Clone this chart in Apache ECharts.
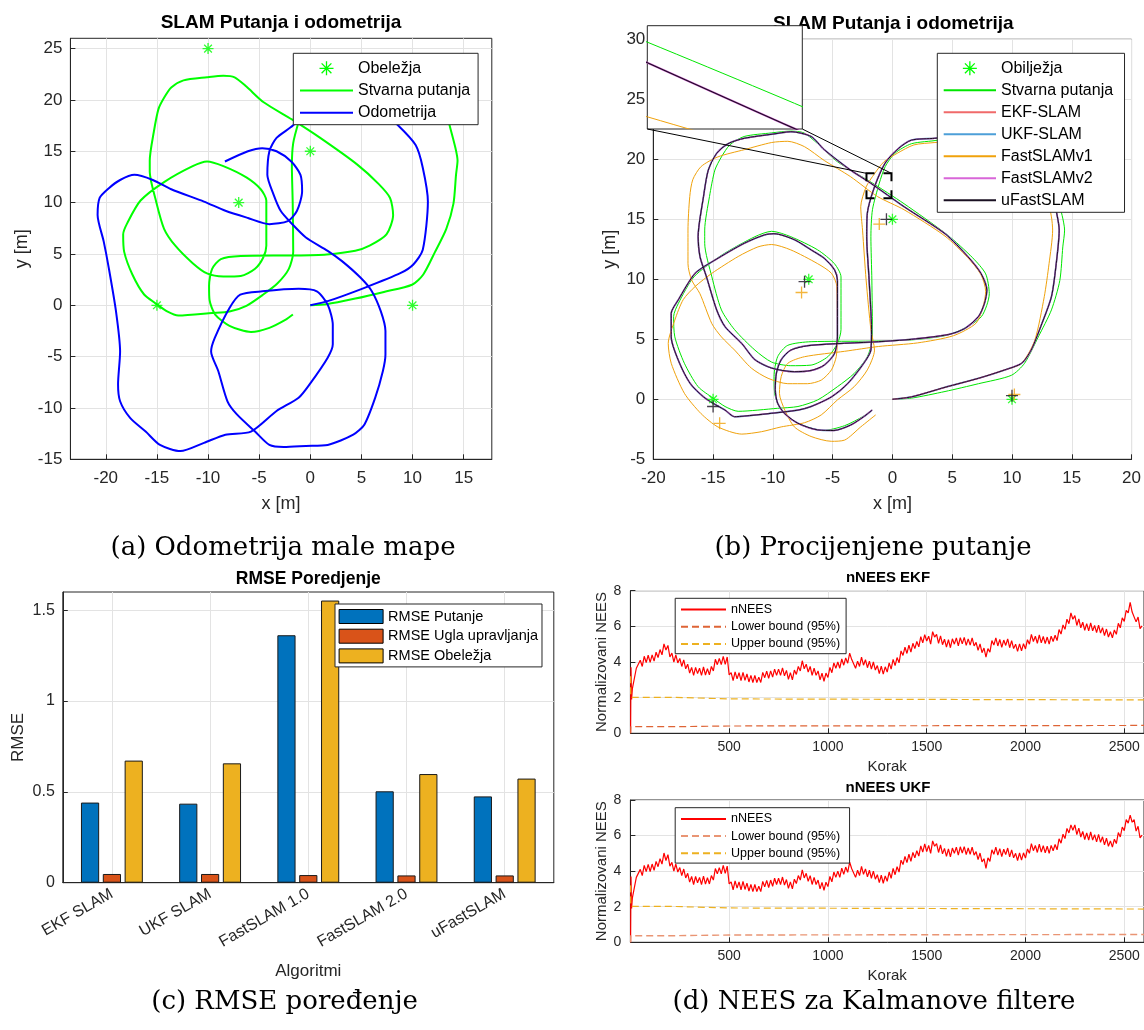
<!DOCTYPE html>
<html><head><meta charset="utf-8">
<script src="https://cdn.jsdelivr.net/npm/echarts@6/dist/echarts.min.js"></script>
<style>html,body{margin:0;padding:0;background:#fff;}#c{width:1144px;height:1030px;}</style>
</head><body><div id="c"></div>
<script>
// ---------------- DATA ----------------
const landmarks = [[-10,25],[0,15],[-7,10],[-15,0],[10,0]];
const truePath = [[0,0],[1.6,0.1],[4.4,0.65],[7.2,1.3],[9.95,2.0],[11.05,3.0],[12.2,5.2],[13.3,7.45],[14.0,9.9],[14.25,12.7],[14.4,14.1],[14.2,15.3],[13.6,17.6],[13.0,19.8],[11.8,21.4],[9.8,22.3],[7.0,22.4],[5.0,22.0],[3.8,21.6],[1.6,21.3],[0.2,20.5],[-0.6,19.4],[-1.1,18.0],[-1.67,15.8],[-1.8,13.55],[-1.72,9.95],[-1.67,5.2],[-2.1,3.55],[-3.2,2.15],[-4.6,1.05],[-6.25,-0.05],[-7.9,-0.6],[-9.6,-0.75],[-12.9,-1.0],[-14.0,-0.6],[-15.0,0.1],[-16.25,1.05],[-17.4,3.0],[-18.2,5.2],[-18.3,6.9],[-17.9,8.0],[-16.6,10.2],[-14.3,12.0],[-11.5,13.55],[-10.1,14.0],[-8.5,13.55],[-6.25,12.45],[-4.85,11.3],[-4.3,10.2],[-4.3,5.8],[-4.6,4.65],[-5.4,3.55],[-6.8,2.85],[-8.5,2.8],[-10.1,3.1],[-11.5,4.1],[-13.2,5.8],[-14.3,7.45],[-15.1,10.2],[-15.7,13.0],[-15.7,14.1],[-15.3,16.9],[-14.85,19.1],[-14.3,20.2],[-13.6,21.2],[-12.4,21.9],[-10.1,22.2],[-8.5,22.35],[-7.4,22.2],[-6.25,21.3],[-4.6,19.8],[-1.8,18.1],[0.97,16.3],[4.6,13.7],[6.7,11.8],[7.8,10.45],[8.1,8.8],[7.45,6.9],[5.8,5.8],[4.4,5.3],[1.6,4.95],[-1.7,4.85],[-6.8,4.8],[-8.75,4.5],[-9.6,3.55],[-9.9,1.9],[-9.85,0.5],[-9.3,-0.9],[-7.9,-2.0],[-5.8,-2.6],[-4.0,-2.2],[-2.4,-1.4],[-1.7,-0.9]];
const odomPath = [[0,0],[1.7,0.4],[5.3,1.7],[8.85,3.15],[10.1,4.0],[11.0,5.4],[11.5,10.1],[11.0,13.4],[10.3,15.6],[8.5,17.6],[6.5,19.3],[4.0,20.2],[1.5,20.0],[-0.3,19.0],[-1.7,17.5],[-3.3,16.3],[-4.0,15.0],[-4.2,12.7],[-3.6,10.8],[-2.9,9.2],[-1.86,8.0],[-0.43,6.6],[1.7,5.3],[3.1,4.3],[4.9,2.7],[6.0,1.4],[6.9,-0.6],[7.35,-2.5],[7.35,-4.8],[7.1,-6.4],[6.35,-9.0],[5.3,-11.6],[4.2,-12.6],[1.7,-13.6],[-0.43,-13.7],[-2.6,-13.8],[-4.0,-13.6],[-5.4,-12.3],[-7.2,-10.6],[-8.1,-9.35],[-9.0,-6.4],[-9.7,-4.5],[-9.35,-3.2],[-7.9,-0.26],[-6.85,1.04],[-4.7,1.36],[-1.14,1.6],[0.64,1.36],[1.7,0.06],[2.2,-1.9],[2.2,-3.8],[1.7,-5.1],[-0.07,-7.7],[-1.14,-9.0],[-3.3,-10.3],[-5.8,-12.3],[-8.3,-12.6],[-10.4,-13.4],[-12.7,-14.2],[-14.7,-13.6],[-16.1,-12.3],[-17.6,-11.0],[-18.6,-9.35],[-18.8,-7.7],[-18.6,-4.5],[-19.0,-0.6],[-19.7,3.6],[-20.2,6.2],[-20.8,8.8],[-20.6,10.45],[-19.7,11.4],[-18.6,12.2],[-17.2,12.7],[-15.4,12.2],[-13.6,11.3],[-10.4,10.1],[-8.3,9.2],[-6.1,8.5],[-4.0,7.9],[-2.2,8.2],[-1.3,9.2],[-0.8,11.1],[-0.96,12.7],[-1.86,14.0],[-3.3,15.0],[-4.7,15.3],[-6.1,15.0],[-8.35,14.0]];
const ufastPath = [[0,0],[1.6,0.2],[4.4,1.0],[7.2,1.75],[9.4,2.45],[10.8,3.0],[11.6,4.1],[12.4,6.05],[13.3,8.55],[13.7,11.3],[13.95,14.1],[13.8,15.2],[13.3,17.5],[12.6,19.6],[11.3,21.2],[9.3,22.1],[6.8,22.2],[4.8,21.9],[3.55,21.75],[1.6,21.6],[0.5,20.9],[-0.6,19.7],[-1.5,17.7],[-2.1,15.5],[-2.15,13.55],[-1.95,9.95],[-1.75,5.8],[-1.8,4.1],[-2.4,3.0],[-3.75,1.3],[-5.1,0.2],[-6.8,-0.6],[-7.9,-0.9],[-10.4,-1.2],[-12.4,-1.4],[-13.2,-1.45],[-14.0,-0.9],[-15.0,-0.33],[-15.8,0.2],[-16.9,1.3],[-17.8,3.0],[-18.5,5.2],[-18.5,7.15],[-17.9,8.3],[-16.5,10.5],[-14.85,11.6],[-12.4,13.0],[-10.7,13.7],[-9.9,13.8],[-8.2,13.3],[-6.8,12.45],[-5.7,11.75],[-4.85,10.8],[-4.6,9.9],[-4.6,5.2],[-4.85,3.8],[-5.7,2.85],[-6.8,2.4],[-8.2,2.3],[-10.1,2.6],[-11.5,3.3],[-12.6,4.65],[-14.0,6.05],[-14.7,7.45],[-15.55,10.2],[-16.1,11.9],[-16.25,13.55],[-15.8,16.9],[-15.4,19.1],[-14.7,20.5],[-13.75,21.3],[-12.4,21.75],[-10.0,22.1],[-8.5,22.3],[-6.8,21.9],[-5.7,20.8],[-3.5,19.1],[-1.8,18.0],[0.97,16.05],[4.4,13.8],[6.3,11.9],[7.4,10.5],[7.9,9.1],[7.7,8.0],[7.2,6.9],[6.05,5.9],[4.7,5.4],[1.6,5.0],[-1.17,4.8],[-6.8,4.5],[-8.5,4.1],[-9.3,3.3],[-9.7,2.2],[-9.8,0.8],[-9.6,-0.33],[-9.0,-1.2],[-7.9,-2.0],[-6.25,-2.55],[-4.9,-2.6],[-3.5,-2.15],[-2.4,-1.45],[-1.7,-0.9]];
// EKF, UKF and FastSLAMv2 estimates coincide with uFastSLAM within the line width in the picture
const ekfPath = ufastPath, ukfPath = ufastPath, fast2Path = ufastPath;
const fast1Path = [[0,0],[1.6,0.2],[4.4,1.0],[7.2,1.75],[9.4,2.45],[10.8,3.0],[11.9,4.9],[12.7,8.55],[13.1,11.3],[13.4,14.1],[13.3,15.2],[12.8,17.5],[12.0,19.5],[10.6,21.0],[8.5,21.7],[6.0,21.7],[4.5,21.5],[3.55,21.4],[1.8,21.2],[0.4,20.5],[-0.7,19.8],[-1.5,18.8],[-2.2,17.7],[-2.65,16.05],[-2.5,14.1],[-2.2,9.95],[-1.8,5.8],[-1.5,4.1],[-2.1,2.45],[-3.2,1.05],[-4.6,-0.05],[-5.95,-1.3],[-7.35,-1.95],[-9.3,-2.3],[-10.95,-2.7],[-12.6,-2.9],[-14.6,-2.3],[-16.0,-1.2],[-17.4,0.5],[-18.5,3.0],[-18.75,4.65],[-18.2,6.6],[-17.5,8.3],[-16.5,9.4],[-15.1,10.5],[-12.9,11.9],[-11.25,12.7],[-10.1,12.9],[-8.5,12.45],[-6.25,11.3],[-5.1,10.5],[-4.65,9.4],[-4.6,5.2],[-4.7,3.55],[-5.1,2.45],[-5.95,1.6],[-7.1,1.3],[-8.75,1.3],[-10.4,1.75],[-11.8,2.6],[-13.2,4.1],[-14.3,5.2],[-15.1,6.3],[-16.1,8.8],[-16.8,9.95],[-17.1,11.3],[-17.1,14.1],[-16.95,16.9],[-16.7,18.3],[-16.0,19.4],[-14.6,20.2],[-12.4,20.8],[-10.1,21.4],[-8.75,21.5],[-7.35,21.05],[-5.7,19.9],[-3.5,18.55],[-1.25,16.9],[0.97,15.8],[4.4,13.6],[6.3,11.8],[7.4,10.4],[7.8,9.0],[7.6,7.8],[7.0,6.35],[5.1,5.3],[2.1,4.7],[-1.17,4.4],[-4.0,4.0],[-7.35,3.55],[-8.75,3.0],[-9.3,1.9],[-9.45,0.5],[-9.0,-0.9],[-8.2,-2.3],[-6.8,-3.1],[-5.1,-3.5],[-4.0,-3.4],[-2.65,-2.3],[-1.4,-1.3]];
const ufastLm = [[-0.5,15.0],[-7.35,9.8],[-15.0,-0.6],[10.0,0.3]];
const fast1Lm = [[-1.1,14.6],[-7.6,8.9],[-14.45,-2.0],[10.2,0.4]];
const zoomBox = [-2.17, -0.08, 16.75, 18.83];   // x0,x1,y0,y1 of dashed zoom box
const insetRange = [-0.3, 0.65, 16.3, 17.3];    // inset view x0,x1,y0,y1

const algorithms = ['EKF SLAM','UKF SLAM','FastSLAM 1.0','FastSLAM 2.0','uFastSLAM'];
const rmsePath = [0.441, 0.435, 1.362, 0.503, 0.475];
const rmseSteer = [0.048, 0.048, 0.042, 0.040, 0.040];
const rmseLm = [0.672, 0.657, 1.553, 0.598, 0.573];

const neesStart = [[1,0],[3,3.7],[6,1.9]];
const ekfNees = [2.5,2.6,3.65,3.65,4.1,3.75,4.32,3.97,4.38,3.98,
4.4,4.05,4.55,4.25,4.7,4.4,5.02,4.67,4.93,4.28,
4.5,4.0,4.4,3.95,4.2,3.75,4.12,3.62,3.88,3.38,
3.7,3.25,3.7,3.35,3.65,3.25,3.72,3.27,3.63,3.28,
3.75,3.5,4.15,3.85,4.2,3.85,4.32,3.87,4.28,3.28,
3.4,2.95,3.45,3.05,3.4,2.95,3.42,2.97,3.33,2.88,
3.25,2.85,3.25,2.85,3.15,2.85,3.42,3.12,3.48,3.08,
3.5,3.15,3.6,3.25,3.6,3.25,3.67,3.22,3.53,3.03,
3.4,3.0,3.55,3.3,3.75,3.5,4.07,3.62,3.88,3.43,
3.75,3.25,3.65,3.25,3.5,3.0,3.37,2.92,3.38,3.13,
3.7,3.4,3.95,3.65,4.0,3.65,4.17,3.82,4.23,3.93,
4.5,4.15,4.05,3.65,4.05,3.75,4.27,3.82,4.13,3.68,
4.05,3.6,4.0,3.55,3.8,3.35,3.77,3.32,3.73,3.43,
3.95,3.6,4.15,3.8,4.25,3.95,4.62,4.37,4.83,4.48,
4.95,4.55,5.05,4.75,5.15,4.85,5.42,5.07,5.53,5.18,
5.45,5.0,5.7,5.4,5.55,5.05,5.47,4.97,5.28,4.83,
5.25,4.8,5.3,5.0,5.35,4.9,5.37,5.02,5.38,4.93,
5.3,4.95,5.35,4.9,5.1,4.65,5.02,4.52,4.78,4.28,
4.75,4.55,5.2,4.95,5.35,4.9,5.27,4.82,5.23,4.93,
5.3,4.8,5.2,4.75,5.0,4.6,5.02,4.62,5.03,4.73,
5.25,5.0,5.55,5.15,5.45,5.05,5.52,5.07,5.43,5.03,
5.4,5.0,5.45,5.15,5.5,5.2,5.82,5.57,6.08,5.83,
6.4,6.15,6.75,6.4,6.6,6.05,6.42,5.92,6.23,5.78,
6.15,5.75,6.2,5.75,6.05,5.65,6.07,5.62,5.93,5.48,
5.85,5.4,5.7,5.35,5.8,5.55,6.17,5.92,6.48,6.28,
6.9,6.75,7.35,6.8,6.9,6.25,6.52,5.87,6.03];
const ukfNees = [2.5,2.6,3.65,3.65,4.1,3.75,4.32,3.97,4.38,3.98,
4.4,4.05,4.55,4.25,4.7,4.4,5.02,4.6,4.93,4.28,
4.5,4.0,4.4,3.95,4.2,3.75,4.12,3.62,3.88,3.38,
3.7,3.25,3.7,3.35,3.65,3.25,3.72,3.27,3.63,3.28,
3.75,3.5,4.15,3.85,4.2,3.85,4.32,3.87,4.28,3.28,
3.4,2.95,3.45,3.05,3.4,2.95,3.42,2.97,3.33,2.88,
3.25,2.85,3.25,2.85,3.15,2.85,3.42,3.12,3.48,3.08,
3.5,3.15,3.6,3.25,3.6,3.25,3.67,3.22,3.53,3.03,
3.4,3.0,3.55,3.3,3.75,3.5,4.07,3.62,3.88,3.43,
3.75,3.25,3.65,3.25,3.5,3.0,3.37,2.92,3.38,3.13,
3.7,3.4,3.95,3.65,4.0,3.65,4.17,3.82,4.23,3.93,
4.5,4.15,4.05,3.65,4.05,3.75,4.27,3.82,4.13,3.68,
4.05,3.6,4.0,3.55,3.8,3.35,3.77,3.32,3.73,3.43,
3.95,3.6,4.15,3.8,4.25,3.95,4.62,4.37,4.83,4.48,
4.95,4.55,5.05,4.75,5.15,4.85,5.42,5.07,5.53,5.1,
5.45,5.0,5.7,5.4,5.55,5.05,5.47,4.97,5.28,4.83,
5.25,4.8,5.3,5.0,5.35,4.9,5.37,5.02,5.38,4.93,
5.3,4.95,5.35,4.9,5.1,4.65,5.02,4.52,4.7,4.15,
4.75,4.55,5.2,4.95,5.35,4.9,5.27,4.82,5.23,4.93,
5.3,4.8,5.2,4.75,5.0,4.6,5.02,4.62,5.03,4.73,
5.25,5.0,5.55,5.15,5.45,5.05,5.52,5.07,5.43,5.03,
5.4,5.0,5.45,5.15,5.5,5.2,5.82,5.57,6.08,5.83,
6.4,6.15,6.6,6.3,6.6,6.05,6.42,5.92,6.23,5.78,
6.15,5.75,6.2,5.75,6.05,5.65,6.07,5.62,5.93,5.48,
5.85,5.4,5.7,5.35,5.8,5.55,6.17,5.92,6.48,6.28,
6.9,6.7,7.15,6.75,6.9,6.25,6.52,5.87,6.03];
const upperBound = [[1,3.2],[2,2.02],[210,2.02],[212,1.93],[500,1.93],[502,1.87],[2600,1.87]];
const lowerBound = [[1,0],[2,0.37],[210,0.37],[212,0.41],[500,0.41],[502,0.44],[2600,0.44]];

const ticksAX = [-20,-15,-10,-5,0,5,10,15], ticksAY = [-15,-10,-5,0,5,10,15,20,25];
const ticksBX = [-20,-15,-10,-5,0,5,10,15,20], ticksBY = [-5,0,5,10,15,20,25,30];
const ticksCY = [0,0.5,1,1.5], ticksCX = [1,2,3,4,5];
const ticksDX = [500,1000,1500,2000,2500], ticksDY = [0,2,4,6,8];

// ---------------- STYLE HELPERS ----------------
const SANS = '"Liberation Sans", Arial, Helvetica, sans-serif';
const SERIF = '"DejaVu Serif", "Liberation Serif", serif';
const AX = '#262626', GRIDC = '#e3e3e3';
const ASTER = 'path://M5,0L5,10M0,5L10,5M1.5,1.5L8.5,8.5M1.5,8.5L8.5,1.5';
const PLUS = 'path://M5,0L5,10M0,5L10,5';
const plain = v => String(v);
function axis(gi, min, max, ticks, fs, margin, extra) {
  return Object.assign({
    type: 'value', gridIndex: gi, min: min, max: max,
    axisLine: {show: true, onZero: false, lineStyle: {color: AX, width: 1}},
    axisTick: {show: true, inside: true, length: 5, customValues: ticks, lineStyle: {color: AX}},
    axisLabel: {show: true, customValues: ticks, color: AX, fontSize: fs, fontFamily: SANS, margin: margin, formatter: plain},
    splitLine: {show: true, lineStyle: {color: GRIDC, width: 1}},
    nameTextStyle: {color: AX, fontFamily: SANS, fontSize: fs + 1},
    nameLocation: 'middle'
  }, extra || {});
}
function gridBox(l, t, w, h, extra) {
  return Object.assign({left: l, top: t, width: w, height: h, show: true, borderColor: AX, borderWidth: 1, backgroundColor: 'rgba(0,0,0,0)'}, extra || {});
}
function pathLine(name, data, color, width, xi, extra) {
  return Object.assign({type: 'line', name: name, data: data, xAxisIndex: xi, yAxisIndex: xi, symbol: 'none', smooth: 0.25,
    lineStyle: {color: color, width: width}, itemStyle: {color: color}, z: 2, animation: false}, extra || {});
}
function marks(name, data, sym, color, size, xi, extra) {
  return Object.assign({type: 'scatter', name: name, data: data, xAxisIndex: xi, yAxisIndex: xi, symbol: sym, symbolSize: size,
    itemStyle: {color: 'rgba(0,0,0,0)', borderColor: color, borderWidth: 1.3}, z: 3, animation: false}, extra || {});
}
function withSteps(start, vals) { return start.concat(vals.map((v, i) => [(i + 1) * 10, v])); }

const INSET = {l: 647.3, t: 25.7, w: 155, h: 103.3};

const chart = echarts.init(document.getElementById('c'), null, {renderer: 'canvas'});

const legendText = {fontSize: 16, fontFamily: SANS, color: '#000'};
const starItem = name => ({name: name, icon: ASTER, itemStyle: {color: 'rgba(0,0,0,0)', borderColor: '#00ff00', borderWidth: 1.3, opacity: 1}});
const noSym = {opacity: 0};
const option = {
  animation: false,
  backgroundColor: '#fff',
  grid: [
    gridBox(70.4, 38.3, 421.4, 421),
    gridBox(653.3, 39.3, 480, 420),
    gridBox(62.8, 592, 491, 290.7),
    gridBox(630.4, 590.7, 515.6, 142.6),
    gridBox(630.4, 800, 515.6, 142.3),
    gridBox(INSET.l, INSET.t, INSET.w, INSET.h, {z: 10, backgroundColor: '#fff'})
  ],
  xAxis: [
    axis(0, -23.46, 17.75, ticksAX, 17, 11, {name: 'x [m]', nameGap: 36}),
    axis(1, -20, 20, ticksBX, 17, 11, {name: 'x [m]', nameGap: 36}),
    axis(2, 0.5, 5.5, ticksCX, 16, 10, {axisLabel: {customValues: ticksCX, rotate: 30, color: AX, fontSize: 16, fontFamily: SANS, margin: 10, formatter: v => algorithms[v - 1]}, name: 'Algoritmi', nameGap: 80}),
    axis(3, 0, 2600, ticksDX, 14, 7, {name: 'Korak', nameGap: 26, nameTextStyle: {color: AX, fontFamily: SANS, fontSize: 15}}),
    axis(4, 0, 2600, ticksDX, 14, 7, {name: 'Korak', nameGap: 26, nameTextStyle: {color: AX, fontFamily: SANS, fontSize: 15}}),
    {type: 'value', gridIndex: 5, min: insetRange[0], max: insetRange[1], show: false, splitLine: {show: false}}
  ],
  yAxis: [
    axis(0, -15, 26, ticksAY, 17, 8, {name: 'y [m]', nameGap: 39}),
    axis(1, -5, 30, ticksBY, 17, 8, {name: 'y [m]', nameGap: 34}),
    axis(2, 0, 1.6, ticksCY, 16, 8, {name: 'RMSE', nameGap: 36}),
    axis(3, 0, 8, ticksDY, 14, 9, {name: 'Normalizovani NEES', nameGap: 16, nameTextStyle: {color: AX, fontFamily: SANS, fontSize: 15}}),
    axis(4, 0, 8, ticksDY, 14, 9, {name: 'Normalizovani NEES', nameGap: 16, nameTextStyle: {color: AX, fontFamily: SANS, fontSize: 15}}),
    {type: 'value', gridIndex: 5, min: insetRange[2], max: insetRange[3], show: false, splitLine: {show: false}}
  ],
  legend: [
    {orient: 'vertical', left: 293.3, top: 53.3, itemWidth: 53, itemHeight: 14, itemGap: 6.2, itemStyle: noSym,
     padding: [7, 8, 4, 5.7], backgroundColor: '#fff', borderColor: AX, borderWidth: 1, textStyle: legendText,
     data: [starItem('Obeležja'), 'Stvarna putanja', 'Odometrija']},
    {orient: 'vertical', left: 937.3, top: 53.3, itemWidth: 52.3, itemHeight: 14, itemGap: 6, itemStyle: noSym,
     padding: [7, 7, 4, 5.4], backgroundColor: '#fff', borderColor: AX, borderWidth: 1, textStyle: legendText,
     data: [starItem('Obilježja'), 'Stvarna putanja ', 'EKF-SLAM', 'UKF-SLAM', 'FastSLAMv1', 'FastSLAMv2', 'uFastSLAM']},
    {orient: 'vertical', left: 335, top: 604, itemWidth: 44, itemHeight: 14, itemGap: 4.7, icon: 'rect',
     padding: [5, 4, 3.5, 3.6], backgroundColor: '#fff', borderColor: AX, borderWidth: 1,
     itemStyle: {borderColor: '#000', borderWidth: 1},
     textStyle: {fontSize: 14.5, fontFamily: SANS, color: '#000'},
     data: ['RMSE Putanje', 'RMSE Ugla upravljanja', 'RMSE Obeležja']},
    {orient: 'vertical', left: 675.2, top: 598.3, itemWidth: 45, itemHeight: 10, itemGap: 4.2, itemStyle: noSym,
     padding: [4.7, 6, 3.3, 4.8], backgroundColor: '#fff', borderColor: AX, borderWidth: 1,
     textStyle: {fontSize: 12.5, fontFamily: SANS, color: '#000'},
     data: ['nNEES', 'Lower bound (95%)', 'Upper bound (95%)']},
    {orient: 'vertical', left: 675.2, top: 807.7, itemWidth: 45, itemHeight: 10, itemGap: 4.2, itemStyle: noSym,
     padding: [4.7, 6, 3.3, 4.8], backgroundColor: '#fff', borderColor: AX, borderWidth: 1,
     textStyle: {fontSize: 12.5, fontFamily: SANS, color: '#000'},
     data: ['nNEES ', 'Lower bound (95%) ', 'Upper bound (95%) ']}
  ],
  series: [
    // (a)
    marks('Obeležja', landmarks, ASTER, '#00ff00', 11, 0),
    pathLine('Stvarna putanja', truePath, '#00ff00', 2, 0),
    pathLine('Odometrija', odomPath, '#0000ff', 2, 0),
    // (b)
    pathLine('Stvarna putanja ', truePath, '#00e600', 1, 1),
    pathLine('EKF-SLAM', ekfPath, '#f06a6a', 1.4, 1),
    pathLine('UKF-SLAM', ukfPath, '#4d9fd8', 1.6, 1),
    pathLine('FastSLAMv1', fast1Path, '#f0a20c', 1, 1),
    pathLine('FastSLAMv2', fast2Path, '#d866d8', 1.3, 1),
    pathLine('uFastSLAM', ufastPath, '#1a1022', 1, 1),
    marks('Obilježja', landmarks, ASTER, '#00ff00', 11, 1),
    marks('lm-fast1', fast1Lm, PLUS, '#f0a20c', 12, 1),
    marks('lm-ufast', ufastLm, PLUS, '#1a1022', 12, 1),
    // inset
    pathLine('in-true', truePath, '#00e600', 1, 5, {z: 11}),
    pathLine('in-fast1', fast1Path, '#f0a20c', 1, 5, {z: 11}),
    pathLine('in-fast2', fast2Path, '#d866d8', 2.2, 5, {z: 11}),
    pathLine('in-ufast', ufastPath, '#1a1022', 1.3, 5, {z: 11}),
    // (c)
    {type: 'bar', name: 'RMSE Putanje', xAxisIndex: 2, yAxisIndex: 2, data: rmsePath.map((v, i) => [ticksCX[i], v]), barWidth: 18.2, barGap: '20%', animation: false, itemStyle: {color: '#0072BD', borderColor: '#1a1a1a', borderWidth: 1}},
    {type: 'bar', name: 'RMSE Ugla upravljanja', xAxisIndex: 2, yAxisIndex: 2, data: rmseSteer.map((v, i) => [ticksCX[i], v]), barWidth: 18.2, barGap: '20%', animation: false, itemStyle: {color: '#D95319', borderColor: '#1a1a1a', borderWidth: 1}},
    {type: 'bar', name: 'RMSE Obeležja', xAxisIndex: 2, yAxisIndex: 2, data: rmseLm.map((v, i) => [ticksCX[i], v]), barWidth: 18.2, barGap: '20%', animation: false, itemStyle: {color: '#EDB120', borderColor: '#1a1a1a', borderWidth: 1}},
    // (d) EKF
    pathLine('nNEES', withSteps(neesStart, ekfNees), '#ff0000', 1.2, 3, {smooth: false}),
    pathLine('Lower bound (95%)', lowerBound, '#de6436', 1, 3, {smooth: false, lineStyle: {color: '#de6436', width: 1.2, type: [7, 4]}}),
    pathLine('Upper bound (95%)', upperBound, '#EDB120', 1, 3, {smooth: false, lineStyle: {color: '#EDB120', width: 1.2, type: [7, 4]}}),
    // (d) UKF
    pathLine('nNEES ', withSteps(neesStart, ukfNees), '#ff0000', 1.2, 4, {smooth: false}),
    pathLine('Lower bound (95%) ', lowerBound, '#e99574', 1, 4, {smooth: false, lineStyle: {color: '#e99574', width: 1.4, type: [7, 4]}}),
    pathLine('Upper bound (95%) ', upperBound, '#EDB120', 1, 4, {smooth: false, lineStyle: {color: '#EDB120', width: 1.2, type: [7, 4]}})
  ]
};
chart.setOption(option);

// titles, captions and zoom decorations
const tl = chart.convertToPixel({xAxisIndex: 1, yAxisIndex: 1}, [zoomBox[0], zoomBox[3]]);
const br = chart.convertToPixel({xAxisIndex: 1, yAxisIndex: 1}, [zoomBox[1], zoomBox[2]]);
const bw = br[0] - tl[0], bh = br[1] - tl[1];
function txt(id, x, y, text, font, z) {
  return {type: 'text', id: id, x: x, y: y, z: z || 1, style: {text: text, font: font, fill: '#000', align: 'center', verticalAlign: 'middle'}};
}
const boldT = s => 'bold ' + s + 'px ' + SANS;
chart.setOption({graphic: {elements: [
  txt('ta', 281, 22.7, 'SLAM Putanja i odometrija', boldT(19)),
  txt('tb', 893.3, 23.3, 'SLAM Putanja i odometrija', boldT(19)),
  txt('tc', 308.3, 579.3, 'RMSE Poredjenje', boldT(17.5)),
  txt('td1', 888, 578.3, 'nNEES EKF', boldT(15)),
  txt('td2', 888, 788.3, 'nNEES UKF', boldT(15)),
  txt('ca', 283, 548, '(a) Odometrija male mape', '26px ' + SERIF),
  txt('cb', 873, 548, '(b) Procijenjene putanje', '26px ' + SERIF),
  txt('cc', 284.6, 1002, '(c) RMSE poređenje', '26px ' + SERIF),
  txt('cd', 874, 1002, '(d) NEES za Kalmanove filtere', '26px ' + SERIF),
  {type: 'rect', id: 'zbox', z: 12, shape: {x: tl[0], y: tl[1], width: bw, height: bh},
   style: {fill: 'none', stroke: '#000', lineWidth: 2, lineDash: [bw * 0.64, bw * 0.36], lineDashOffset: bw * 0.32}},
  {type: 'line', id: 'zl1', z: 12, shape: {x1: INSET.l, y1: INSET.t + INSET.h, x2: tl[0], y2: tl[1]}, style: {stroke: '#000', lineWidth: 1}},
  {type: 'line', id: 'zl2', z: 12, shape: {x1: INSET.l + INSET.w, y1: INSET.t + INSET.h, x2: br[0], y2: tl[1]}, style: {stroke: '#000', lineWidth: 1}}
]}});
</script></body></html>
